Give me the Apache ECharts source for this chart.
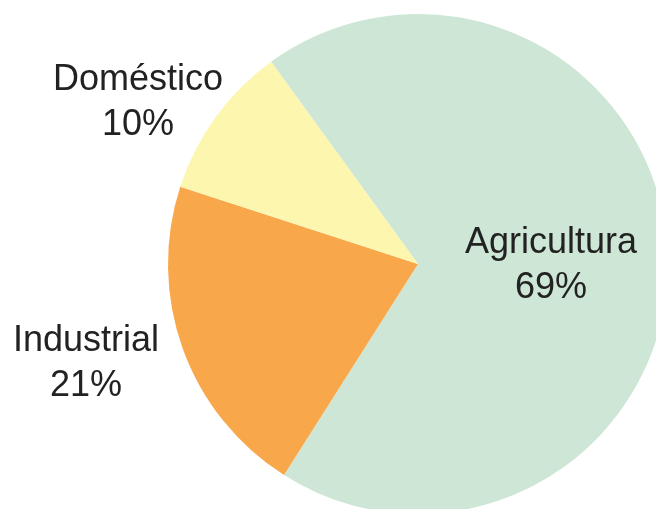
<!DOCTYPE html>
<html>
<head>
<meta charset="utf-8">
<script src="https://cdn.jsdelivr.net/npm/echarts@6/dist/echarts.min.js"></script>
<style>
  html, body { margin: 0; padding: 0; background: #fff; }
  #chart { width: 656px; height: 509px; }
</style>
</head>
<body>
<div id="chart"></div>
<script>
// datos del gráfico
const categories = ['Agricultura', 'Industrial', 'Doméstico']
const values = [69, 21, 10]
const colors = ['#cde6d5', '#f8a84b', '#fdf6af']

// posición de cada etiqueta (centro del bloque de texto)
const labelPos = [
  { x: 551, y: 266 },
  { x: 86, y: 364 },
  { x: 138, y: 103 },
]

const chart = echarts.init(document.getElementById('chart'))

chart.setOption({
  animation: false,
  series: [
    {
      type: 'pie',
      center: [418, 264],
      radius: 250,
      startAngle: 126,
      clockwise: true,
      data: categories.map((name, i) => ({
        name,
        value: values[i],
        itemStyle: { color: colors[i] },
      })),
      label: {
        show: true,
        position: 'inner',
        formatter: '{b}\n{c}%',
        color: '#222',
        fontFamily: 'Liberation Sans, Arial, sans-serif',
        fontSize: 36,
        lineHeight: 45,
        align: 'center',
        overflow: 'none',
      },
      labelLine: { show: false },
      labelLayout: (params) => {
        const p = labelPos[params.dataIndex]
        return {
          x: p.x,
          y: p.y,
          align: 'center',
          verticalAlign: 'middle',
          hideOverlap: false,
        }
      },
      itemStyle: { borderWidth: 0 },
      emphasis: { disabled: true },
    },
  ],
})
</script>
</body>
</html>
